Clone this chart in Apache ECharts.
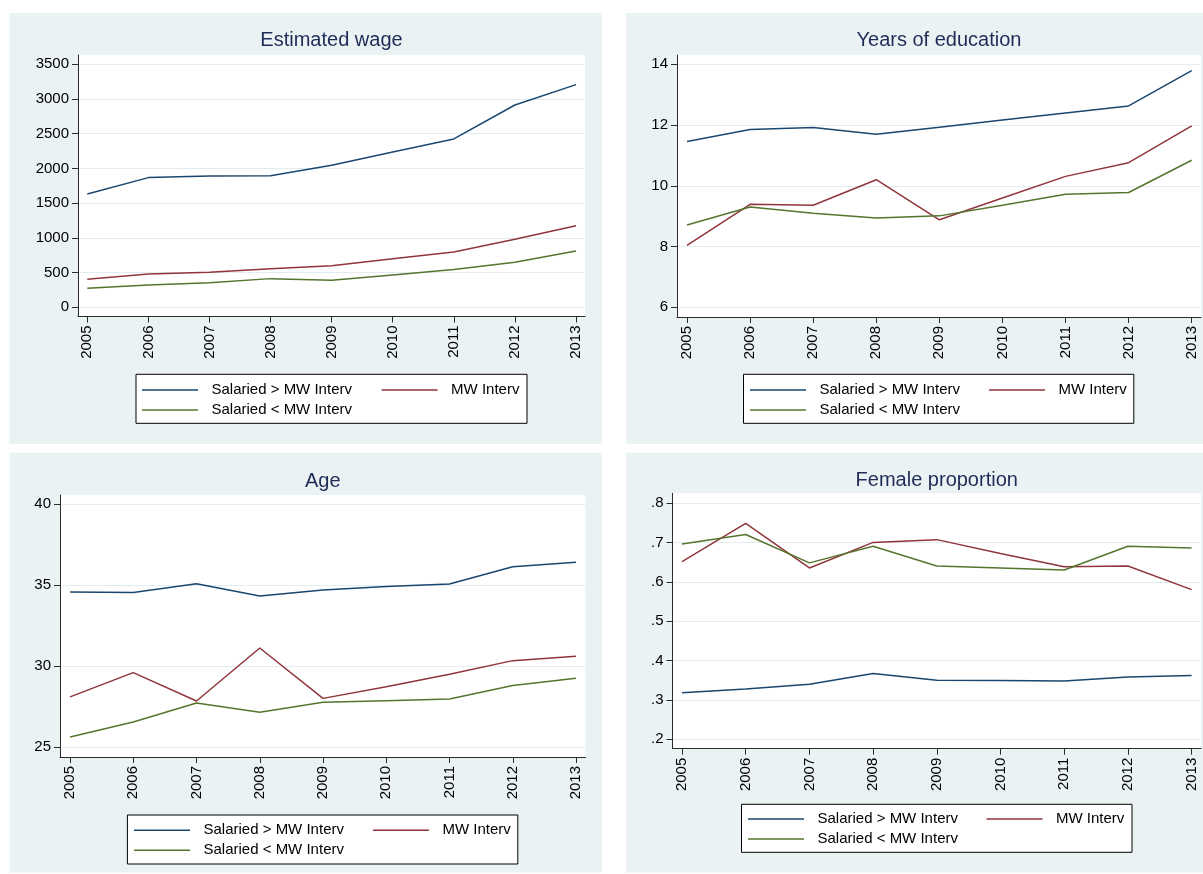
<!DOCTYPE html>
<html>
<head>
<meta charset="utf-8">
<title>Salaried workers vs MW Interv, 2005-2013</title>
<script src="https://cdn.jsdelivr.net/npm/echarts@6/dist/echarts.min.js"></script>
<style>
  html, body { margin: 0; padding: 0; background: #ffffff; }
  #chart { width: 1203px; height: 874px; }
</style>
</head>
<body>
<div id="chart"></div>
<script>
// ---- data ----
const years = [2005, 2006, 2007, 2008, 2009, 2010, 2011, 2012, 2013];
const seriesNames = ['Salaried > MW Interv', 'MW Interv', 'Salaried < MW Interv'];

// Estimated wage
const wageAbove = [1632, 1868, 1892, 1896, 2045, 2237, 2425, 2914, 3207];
const wageMW    = [403, 480, 504, 557, 600, 701, 797, 979, 1176];
const wageBelow = [274, 322, 355, 413, 389, 466, 543, 648, 811];
const wageTicks = [0, 500, 1000, 1500, 2000, 2500, 3000, 3500];

// Years of education
const eduAbove = [11.46, 11.85, 11.92, 11.70, 11.93, 12.17, 12.40, 12.63, 13.79];
const eduMW    = [8.04, 9.39, 9.36, 10.20, 8.88, 9.60, 10.31, 10.76, 11.97];
const eduBelow = [8.71, 9.30, 9.10, 8.94, 9.01, 9.36, 9.72, 9.78, 10.84];
const eduTicks = [6, 8, 10, 12, 14];

// Age
const ageAbove = [34.59, 34.55, 35.10, 34.34, 34.71, 34.92, 35.08, 36.15, 36.42];
const ageMW    = [28.11, 29.61, 27.86, 31.13, 28.02, 28.74, 29.51, 30.35, 30.62];
const ageBelow = [25.64, 26.56, 27.74, 27.16, 27.78, 27.88, 27.98, 28.81, 29.26];
const ageTicks = [25, 30, 35, 40];

// Female proportion
const femAbove = [0.318, 0.328, 0.340, 0.367, 0.350, 0.349, 0.348, 0.358, 0.362];
const femMW    = [0.651, 0.748, 0.635, 0.700, 0.707, 0.672, 0.638, 0.640, 0.580];
const femBelow = [0.696, 0.720, 0.648, 0.690, 0.640, 0.635, 0.630, 0.690, 0.686];
const femTicks = [0.2, 0.3, 0.4, 0.5, 0.6, 0.7, 0.8];

// ---- styling ----
const FONT = '"Liberation Sans", Arial, Helvetica, sans-serif';
const lineColors = ['#1A476F', '#90353B', '#55752F'];
const panelBg = '#EAF2F3';
const gridLineColor = '#E3ECEF';
const axisColor = '#2b2b2b';
const titleColor = '#1f2c57';

// ---- panel layout (pixels) ----
// bg: panel box; plot: plot region [x0, y0, x1, y1]; xPix: pixel of first/last year;
// yPix: pixel of top/bottom tick; legend box and row placement
const panels = [
  { title: 'Estimated wage', values: [wageAbove, wageMW, wageBelow], ticks: wageTicks,
    fmt: v => String(v),
    bg: [9.5, 13, 602, 444], plot: [78, 55, 585, 316.5], xPix: [87.3, 576], yPix: [64.3, 307.3], titleY: 40,
    legend: { box: [136, 374.3, 527, 423.3], rowY: 390, lineX: 142, col2X: 381.6 } },
  { title: 'Years of education', values: [eduAbove, eduMW, eduBelow], ticks: eduTicks,
    fmt: v => String(v),
    bg: [626, 13, 1203, 444], plot: [677, 55, 1201, 317], xPix: [687, 1191.7], yPix: [64.3, 307.3], titleY: 40.5,
    legend: { box: [743.5, 374.3, 1133.8, 423.3], rowY: 390, lineX: 750, col2X: 989 } },
  { title: 'Age', values: [ageAbove, ageMW, ageBelow], ticks: ageTicks,
    fmt: v => String(v),
    bg: [9.6, 452.7, 602, 872.5], plot: [60, 495, 585.5, 757], xPix: [70, 576], yPix: [504.3, 747.3], titleY: 481.3,
    legend: { box: [127.4, 815, 517.8, 864], rowY: 830.3, lineX: 134, col2X: 373 } },
  { title: 'Female proportion', values: [femAbove, femMW, femBelow], ticks: femTicks,
    fmt: v => v.toFixed(1).replace(/^0/, ''),
    bg: [626, 452.7, 1203, 872.5], plot: [672.5, 493.3, 1201, 748.7], xPix: [682, 1191.6], yPix: [503, 739.3], titleY: 480,
    legend: { box: [741.5, 804.3, 1132, 852.3], rowY: 819, lineX: 748, col2X: 986.5 } }
];

// linear map: value at pixel p given two reference (value, pixel) pairs
function lin(v0, p0, v1, p1, p) { return v0 + (p - p0) * (v1 - v0) / (p1 - p0); }

// width of the longer legend label, for sizing the legend box
const measureCtx = document.createElement('canvas').getContext('2d');
measureCtx.font = '15px ' + FONT;
const labelW = measureCtx.measureText(seriesNames[0]).width;

const LEG_LINE = 56, LEG_TEXT_GAP = 8.5, ROW_H = 15, ROW_GAP = 5;
const legendText = { fontFamily: FONT, fontSize: 15, color: '#000', lineHeight: ROW_H, padding: [0, 0, 0, LEG_TEXT_GAP] };

const grid = [], xAxis = [], yAxis = [], series = [], legend = [], title = [], graphic = [];

panels.forEach((p, i) => {
  const [x0, y0, x1, y1] = p.plot;
  graphic.push({ type: 'rect', silent: true, z: -10,
    shape: { x: p.bg[0], y: p.bg[1], width: p.bg[2] - p.bg[0], height: p.bg[3] - p.bg[1] },
    style: { fill: panelBg } });

  grid.push({ left: x0, top: y0, width: x1 - x0, height: y1 - y0, show: true,
    backgroundColor: '#ffffff', borderWidth: 0, containLabel: false, outerBoundsMode: 'none' });

  const first = years[0], last = years[years.length - 1];
  xAxis.push({ gridIndex: i, type: 'value',
    min: lin(first, p.xPix[0], last, p.xPix[1], x0),
    max: lin(first, p.xPix[0], last, p.xPix[1], x1),
    axisLine: { show: true, onZero: false, lineStyle: { color: axisColor, width: 1 } },
    axisTick: { show: true, length: 6, customValues: years, lineStyle: { color: axisColor, width: 1 } },
    axisLabel: { customValues: years, rotate: 90, margin: 9, fontSize: 15, fontFamily: FONT, color: '#000',
      formatter: v => String(v) },
    splitLine: { show: false } });

  const tTop = p.ticks[p.ticks.length - 1], tBot = p.ticks[0];
  yAxis.push({ gridIndex: i, type: 'value',
    min: lin(tTop, p.yPix[0], tBot, p.yPix[1], y1),
    max: lin(tTop, p.yPix[0], tBot, p.yPix[1], y0),
    axisLine: { show: true, onZero: false, lineStyle: { color: axisColor, width: 1 } },
    axisTick: { show: true, length: 6, customValues: p.ticks, lineStyle: { color: axisColor, width: 1 } },
    axisLabel: { customValues: p.ticks, margin: 9, fontSize: 15, fontFamily: FONT, color: '#000', formatter: p.fmt },
    splitLine: { show: true, lineStyle: { color: gridLineColor, width: 1 } } });

  p.values.forEach((vals, k) => {
    series.push({ type: 'line', name: seriesNames[k], xAxisIndex: i, yAxisIndex: i,
      data: years.map((y, j) => [y, vals[j]]),
      symbol: 'none', showSymbol: false, silent: true, z: 3,
      color: lineColors[k], itemStyle: { color: lineColors[k] },
      lineStyle: { width: 1.5, color: lineColors[k] } });
  });

  title.push({ text: p.title, left: (x0 + x1) / 2, top: p.titleY - 10, padding: 0,
    textAlign: 'center', textVerticalAlign: 'top',
    textStyle: { fontFamily: FONT, fontSize: 20, fontWeight: 'normal', color: titleColor } });

  const L = p.legend;
  const colW = LEG_LINE + 5 + LEG_TEXT_GAP + labelW;
  // boxed legend holding the left column (first and third series)
  legend.push({ orient: 'vertical', left: L.box[0], top: L.box[1], icon: 'rect',
    itemWidth: LEG_LINE, itemHeight: 1.5, itemGap: ROW_GAP, selectedMode: false,
    padding: [L.rowY - ROW_H / 2 - L.box[1], L.box[2] - (L.lineX + colW),
              L.box[3] - (L.rowY + ROW_H + ROW_GAP + ROW_H / 2), L.lineX - L.box[0]],
    backgroundColor: '#ffffff', borderColor: '#000000', borderWidth: 1, borderRadius: 0,
    data: [seriesNames[0], seriesNames[2]], textStyle: legendText, z: 4 });
  // second column (MW Interv) placed inside the same box
  legend.push({ orient: 'horizontal', left: L.col2X, top: L.rowY - ROW_H / 2, icon: 'rect',
    itemWidth: LEG_LINE, itemHeight: 1.5, itemGap: ROW_GAP, selectedMode: false, padding: 0,
    data: [seriesNames[1]], textStyle: legendText, z: 6 });
});

const chart = echarts.init(document.getElementById('chart'), null, { renderer: 'canvas' });
chart.setOption({
  animation: false,
  backgroundColor: '#ffffff',
  color: lineColors,
  textStyle: { fontFamily: FONT },
  title, grid, xAxis, yAxis, series, legend, graphic
});
</script>
</body>
</html>
